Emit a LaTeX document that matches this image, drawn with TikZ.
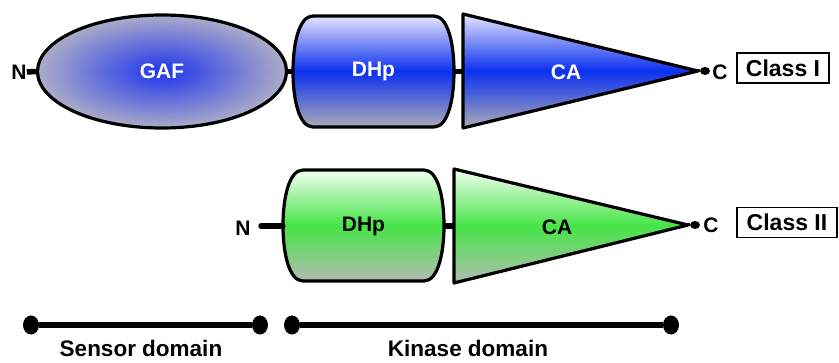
\documentclass[tikz,border=0pt]{standalone}
\usepackage{fontspec}
\setmainfont{Liberation Sans}
\usetikzlibrary{shapes.geometric}
\definecolor{bluetop}{RGB}{228,228,252}
\definecolor{bluemid}{RGB}{12,48,240}
\definecolor{bluebot}{RGB}{170,170,182}
\definecolor{greentop}{RGB}{242,255,242}
\definecolor{greenmid}{RGB}{70,228,70}
\definecolor{greenbot}{RGB}{178,188,178}
\definecolor{gafin}{RGB}{30,52,236}
\definecolor{gafout}{RGB}{172,172,200}
\newcommand\barrelpath[4]{({#1+20},#2) -- ({#3-20},#2) .. controls ({#3-6},#2) and (#3,{#2+0.25*(#4-#2)}) .. (#3,{(#2+#4)/2}) .. controls (#3,{#2+0.75*(#4-#2)}) and ({#3-6},#4) .. ({#3-20},#4) -- ({#1+20},#4) .. controls ({#1+6},#4) and (#1,{#2+0.75*(#4-#2)}) .. (#1,{(#2+#4)/2}) .. controls (#1,{#2+0.25*(#4-#2)}) and ({#1+6},#2) .. cycle}
\begin{document}
\begin{tikzpicture}[x=1pt,y=-1pt,
  outline/.style={draw=black,line width=3.2pt,line join=round},
  blueshade/.style={shading=axis,top color=bluetop,bottom color=bluebot,middle color=bluemid},
  greenshade/.style={shading=axis,top color=greentop,bottom color=greenbot,middle color=greenmid},
  domlabel/.style={font=\fontsize{21}{23}\selectfont\bfseries,inner sep=0},
  endlabel/.style={font=\fontsize{21}{23}\selectfont\bfseries,inner sep=0},
  linker/.style={line width=5.5pt},
  classbox/.style={draw=black,line width=1.5pt,font=\fontsize{23}{25}\selectfont\bfseries,inner sep=0,minimum height=30pt},
  barlabel/.style={font=\fontsize{22.5}{25}\selectfont\bfseries,inner sep=0,anchor=base},
  enddot/.style={ellipse,fill=black,inner sep=0,minimum width=10pt,minimum height=8pt},
  bardot/.style={ellipse,fill=black,inner sep=0,minimum width=16pt,minimum height=19pt}]
\useasboundingbox (0,0) rectangle (839,363);

% ---------- Class I ----------
\node[endlabel] (n1) at (19,72) {N};
\node[ellipse,outline,shading=radial,inner color=gafin,outer color=gafout,
      minimum width=249pt,minimum height=113pt,inner sep=0,
      domlabel,text=white] (gaf) at (162,71.5) {GAF};
\draw[linker] (n1.east) -- (gaf.west);

\path[outline,blueshade] \barrelpath{293}{16}{454}{127};
\node[domlabel,text=white,minimum width=161pt,minimum height=111pt] (dhp1) at (373.5,71.5) {DHp};
\draw[linker] (gaf.east) -- (dhp1.west);

\coordinate (ca1a) at (463,14);
\coordinate (ca1b) at (463,128);
\coordinate (ca1l) at (463,71.5);
\coordinate (ca1t) at (698,71);
\path[outline,blueshade] (ca1a) -- (ca1t) -- (ca1b) -- cycle;
\node[domlabel,text=white] (ca1) at (566,72) {CA};
\draw[linker] (dhp1.east) -- (ca1l);
\node[enddot] (d1) at (705,71) {};
\draw[line width=3pt] (ca1t) -- (d1);
\node[endlabel] (c1) at (720,72) {C};
\node[classbox,minimum width=92pt] (cl1) at (783,68) {Class I};

% ---------- Class II ----------
\node[endlabel] (n2) at (243,228) {N};
\path[outline,greenshade] \barrelpath{283}{170}{444}{281};
\node[domlabel,minimum width=161pt,minimum height=111pt] (dhp2) at (363.5,226) {DHp};
\coordinate (l2) at (261,226);
\draw[linker,line cap=round] (l2) -- (dhp2.west);

\coordinate (ca2a) at (454,169);
\coordinate (ca2b) at (454,283);
\coordinate (ca2l) at (454,226);
\coordinate (ca2t) at (688,225);
\path[outline,greenshade] (ca2a) -- (ca2t) -- (ca2b) -- cycle;
\node[domlabel] (ca2) at (557,227) {CA};
\draw[linker] (dhp2.east) -- (ca2l);
\node[enddot] (d2) at (695,225) {};
\draw[line width=3pt] (ca2t) -- (d2);
\node[endlabel] (c2) at (711,225) {C};
\node[classbox,minimum width=100pt] (cl2) at (787,222.5) {Class II};

% ---------- domain bars ----------
\node[bardot] (b1) at (31,325) {};
\node[bardot] (b2) at (260,325) {};
\node[bardot] (b3) at (292,325) {};
\node[bardot] (b4) at (671,325) {};
\draw[line width=6.5pt] (b1) -- (b2);
\draw[line width=6.5pt] (b3) -- (b4);
\node[barlabel] (s) at (141,357) {Sensor domain};
\node[barlabel] (k) at (468,357) {Kinase domain};
\end{tikzpicture}
\end{document}
